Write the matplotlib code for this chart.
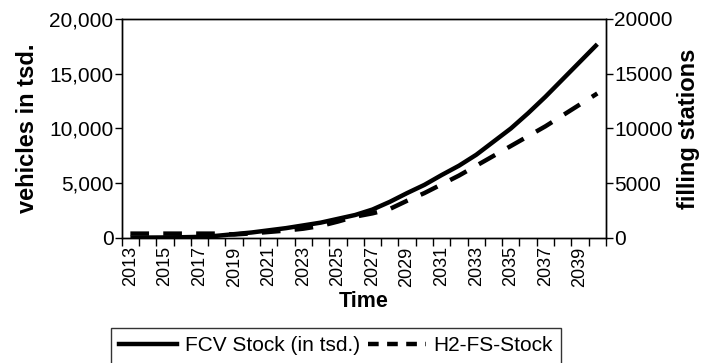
import numpy as np
import matplotlib
matplotlib.use("Agg")
import matplotlib.pyplot as plt
from matplotlib.lines import Line2D
from matplotlib.ticker import FuncFormatter, FixedLocator

plt.rcParams['font.family'] = ['Liberation Sans', 'DejaVu Sans']

# data
years = list(range(2013, 2041))
fcv_stock = [30, 40, 50, 70, 100, 200, 350, 500, 700, 900, 1150, 1400, 1750, 2100,
             2600, 3300, 4100, 4850, 5750, 6600, 7600, 8800, 10000, 11400, 12900,
             14500, 16100, 17700]
h2_fs_stock = [400, 400, 400, 400, 400, 400, 320, 420, 550, 680, 850, 1100, 1500, 1950,
               2250, 2650, 3400, 4100, 4900, 5700, 6600, 7500, 8400, 9300, 10200,
               11200, 12200, 13200]
label_years = list(range(2013, 2040, 2))

fig = plt.figure(figsize=(7.02, 3.63), dpi=100)
ax = fig.add_axes([0.1734, 0.3444, 0.6898, 0.6033])
ax2 = ax.twinx()

ax.plot(years, fcv_stock, color='black', linewidth=3.2, solid_capstyle='butt')
ax2.plot(years, h2_fs_stock, color='black', linewidth=3.2, linestyle=(0, (4.2, 3.2)),
         dash_capstyle='butt')

ax.set_xlim(2012.5, 2040.5)
ax.set_ylim(0, 20000)
ax2.set_ylim(0, 20000)

ax.set_yticks([0, 5000, 10000, 15000, 20000])
ax.yaxis.set_major_formatter(FuncFormatter(lambda v, p: f"{int(v):,}"))
ax2.set_yticks([0, 5000, 10000, 15000, 20000])
ax2.yaxis.set_major_formatter(FuncFormatter(lambda v, p: f"{int(v)}"))

# year labels sit between the category ticks
ax.xaxis.set_major_locator(FixedLocator(label_years))
ax.set_xticklabels([str(y) for y in label_years], rotation=90)
ax.xaxis.set_minor_locator(FixedLocator(np.arange(2012.5, 2041, 1.0)))
ax.tick_params(axis='x', which='major', length=0, labelsize=13, pad=6)
ax.tick_params(axis='x', which='minor', length=6, width=1.0, direction='out')
ax.tick_params(axis='y', length=5, width=1.0, labelsize=15, pad=1)
ax2.tick_params(axis='y', length=5, width=1.0, labelsize=15, pad=1)

for a in (ax, ax2):
    for s in a.spines.values():
        s.set_linewidth(1.0)

ax.set_ylabel("vehicles in tsd.", fontsize=17, fontweight='bold', labelpad=7)
ax2.set_ylabel("filling stations", fontsize=17, fontweight='bold', labelpad=3)
ax.set_xlabel("Time", fontsize=15.5, fontweight='bold', labelpad=3)

# legend proxies (the legend uses shorter dashes)
h1 = Line2D([], [], color='black', linewidth=3.2)
h2 = Line2D([], [], color='black', linewidth=3.2, linestyle=(0, (2.4, 1.9)))
leg = fig.legend([h1, h2], ["FCV Stock (in tsd.)", "H2-FS-Stock"], ncol=2,
                 loc='upper center', bbox_to_anchor=(336 / 702, 1 - 328 / 363),
                 frameon=True, fancybox=False, fontsize=15, handlelength=2.8,
                 columnspacing=0.4, handletextpad=0.35, borderpad=0.4,
                 borderaxespad=0)
leg.get_frame().set_edgecolor('black')
leg.get_frame().set_linewidth(1.0)

fig.savefig("out.png", dpi=100)
